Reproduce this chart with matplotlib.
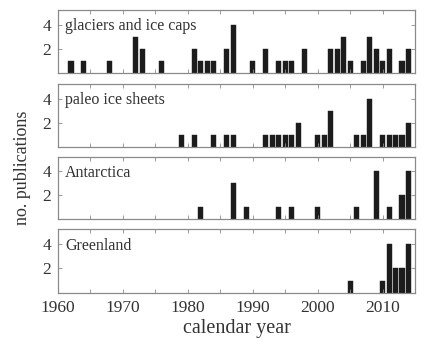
import numpy as np
import matplotlib
matplotlib.use("Agg")
from matplotlib import pyplot as plt

plt.rcParams['font.family'] = ['Liberation Serif', 'DejaVu Serif']

# publication counts per year for each region
glacier_years = [1962, 1964, 1968, 1972, 1973, 1976, 1981, 1982, 1983, 1984, 1986, 1987,
                 1990, 1992, 1994, 1995, 1996, 1998, 2002, 2003, 2004, 2005, 2007, 2008,
                 2009, 2010, 2011, 2013, 2014]
glacier_counts = [1, 1, 1, 3, 2, 1, 2, 1, 1, 1, 2, 4,
                  1, 2, 1, 1, 1, 2, 2, 2, 3, 1, 1, 3,
                  2, 1, 2, 1, 2]

paleo_years = [1979, 1981, 1984, 1986, 1987, 1992, 1993, 1994, 1995, 1996, 1997,
               2000, 2001, 2002, 2006, 2007, 2008, 2010, 2011, 2012, 2013, 2014]
paleo_counts = [1, 1, 1, 1, 1, 1, 1, 1, 1, 1, 2,
                1, 1, 3, 1, 1, 4, 1, 1, 1, 1, 2]

antarctica_years = [1982, 1987, 1989, 1994, 1996, 2000, 2006, 2009, 2011, 2013, 2014]
antarctica_counts = [1, 3, 1, 1, 1, 1, 1, 4, 1, 2, 4]

greenland_years = [2005, 2010, 2011, 2012, 2013, 2014]
greenland_counts = [1, 1, 4, 2, 2, 4]

panels = [("glaciers and ice caps", glacier_years, glacier_counts),
          ("paleo ice sheets", paleo_years, paleo_counts),
          ("Antarctica", antarctica_years, antarctica_counts),
          ("Greenland", greenland_years, greenland_counts)]

W, H = 427, 344
fig = plt.figure(figsize=(W / 100, H / 100), dpi=100)

# axes boxes in pixels: (top, bottom)
boxes = [(10, 73), (84, 147), (157, 219), (229, 293)]
left, right = 58, 415

grey = '#8a8a8a'
txt = '#333333'

for i, (name, yrs, cnt) in enumerate(panels):
    top, bot = boxes[i]
    ax = fig.add_axes([left / W, 1 - bot / H, (right - left) / W, (bot - top) / H])
    ax.bar(yrs, cnt, width=0.78, color='#1c1c1c', edgecolor='#1c1c1c', linewidth=0.3)
    ax.set_xlim(1960, 2015)
    ax.set_ylim(0, 5.2)
    ax.set_yticks([2, 4])
    ax.set_xticks(np.arange(1960, 2016, 5))
    if i == 3:
        ax.set_xticklabels(['1960', '', '1970', '', '1980', '', '1990', '', '2000', '', '2010', ''])
    else:
        ax.set_xticklabels([])
    ax.tick_params(direction='in', top=True, right=True, length=3, width=0.6,
                   color=grey, labelcolor=txt, labelsize=12.5, pad=5)
    for s in ax.spines.values():
        s.set_color(grey)
        s.set_linewidth(0.9)
    ax.text(0.02, 0.74, name, transform=ax.transAxes, fontsize=11.5, color=txt,
            va='center', ha='left')

fig.text(23 / W, 1 - 168 / H, 'no. publications', rotation=90, ha='center', va='center',
         fontsize=13, color=txt)
fig.text(236.5 / W, 1 - 328 / H, 'calendar year', ha='center', va='center',
         fontsize=14.5, color=txt)

fig.savefig('out.png', dpi=100)
